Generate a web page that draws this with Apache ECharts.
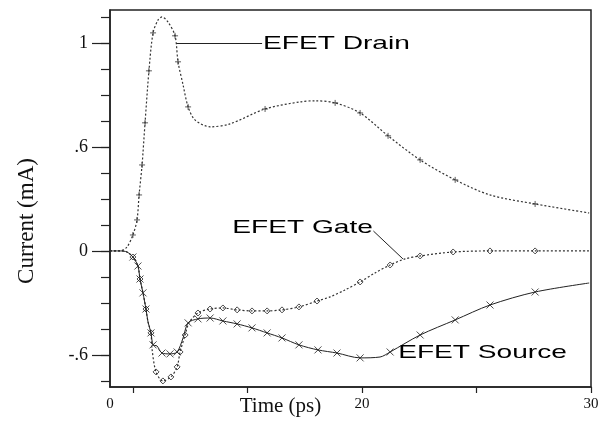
<!DOCTYPE html>
<html>
<head>
	<meta charset="UTF-8">
	<title>EFET currents</title>
	<script src="https://cdn.jsdelivr.net/npm/echarts@6.0.0/dist/echarts.min.js"></script>
	<style>
		html, body { margin: 0; padding: 0; background: #fff; }
		#main { width: 615px; height: 427px; }
	</style>
</head>
<body>
	<div id="main"></div>
	<script type="text/javascript">
		// time (ps) and current (mA)
		var drainT = [9.0, 9.44, 9.74, 10.0, 10.18, 10.27, 10.40, 10.53, 10.70, 10.88, 11.10, 11.27, 11.53, 11.84, 11.97, 12.19, 12.41, 12.71, 13.37, 14.24, 15.77, 17.30, 17.95, 18.83, 19.92, 21.14, 22.54, 24.07, 25.59, 27.56, 29.92];
		var drainI = [0, 0, 0.023, 0.092, 0.179, 0.323, 0.496, 0.739, 1.039, 1.258, 1.333, 1.350, 1.321, 1.241, 1.091, 0.958, 0.831, 0.756, 0.716, 0.733, 0.819, 0.860, 0.866, 0.854, 0.796, 0.664, 0.525, 0.410, 0.323, 0.271, 0.219];
		var drainMarks = [3, 4, 5, 6, 7, 8, 9, 13, 14, 16, 20, 23, 24, 25, 26, 27, 29];

		var gateT = [9.0, 9.44, 9.74, 10.0, 10.22, 10.31, 10.44, 10.57, 10.66, 10.79, 10.83, 11.01, 11.31, 11.66, 11.93, 12.06, 12.28, 12.45, 12.84, 13.37, 13.93, 14.55, 15.20, 15.86, 16.51, 17.25, 18.04, 18.61, 19.26, 19.92, 20.57, 21.23, 21.88, 22.54, 23.98, 25.59, 27.56, 29.92];
		var gateI = [0, 0, -0.006, -0.035, -0.087, -0.162, -0.242, -0.335, -0.410, -0.473, -0.560, -0.698, -0.750, -0.727, -0.669, -0.583, -0.485, -0.415, -0.358, -0.335, -0.329, -0.340, -0.346, -0.346, -0.340, -0.323, -0.289, -0.265, -0.225, -0.179, -0.127, -0.081, -0.046, -0.029, -0.006, 0, 0, 0];
		var gateMarks = [3, 5, 7, 9, 11, 12, 13, 14, 15, 16, 18, 19, 20, 21, 22, 23, 24, 25, 26, 29, 31, 33, 34, 35, 36];

		var sourceT = [9.0, 9.44, 9.74, 10.0, 10.22, 10.31, 10.44, 10.57, 10.66, 10.79, 10.88, 11.05, 11.27, 11.62, 11.93, 12.19, 12.41, 12.84, 13.37, 13.93, 14.55, 15.20, 15.86, 16.51, 17.25, 18.08, 18.91, 19.92, 20.79, 21.23, 22.54, 24.07, 25.59, 27.56, 29.92];
		var sourceI = [0, 0, -0.006, -0.035, -0.087, -0.162, -0.242, -0.335, -0.410, -0.473, -0.542, -0.548, -0.589, -0.594, -0.583, -0.502, -0.415, -0.392, -0.387, -0.404, -0.421, -0.444, -0.473, -0.502, -0.542, -0.571, -0.589, -0.617, -0.612, -0.583, -0.485, -0.398, -0.312, -0.237, -0.185];
		var sourceMarks = [3, 4, 5, 6, 7, 9, 10, 12, 13, 14, 16, 17, 18, 19, 20, 21, 22, 23, 24, 25, 26, 27, 29, 30, 31, 32, 33];

		// axis ticks and labels as printed
		var xTicks = [10, 15, 20, 25, 30];
		var xLabelVals = [9, 20, 30];
		var xLabels = ['0', '20', '30'];
		var yMinorTicks = [-0.75, -0.6, -0.45, -0.3, -0.15, 0, 0.15, 0.3, 0.45, 0.6, 0.75, 0.9, 1.05, 1.2, 1.35];
		var yLabelVals = [-0.6, 0, 0.6, 1.2];
		var yLabels = ['-.6', '0', '.6', '1'];

		// annotation texts, anchors and leader lines
		var noteTexts = ['EFET Drain', 'EFET Gate', 'EFET Source'];
		var noteAnchors = [[15.68, 1.197], [20.48, 0.133], [21.58, -0.589]];
		var noteAlign = ['left', 'right', 'left'];
		var leaders = [
			[[11.90, 1.197], [15.64, 1.197]],
			[[20.50, 0.115], [21.79, -0.046]]
		];

		function zip(a, b) {
			var out = [];
			for (var i = 0; i < a.length; i++) out.push([a[i], b[i]]);
			return out;
		}
		function pick(a, b, idx) {
			var out = [];
			for (var i = 0; i < idx.length; i++) out.push([a[idx[i]], b[idx[i]]]);
			return out;
		}

		var myChart = echarts.init(document.getElementById('main'));
		var ink = '#222';
		var serif = '"Liberation Serif", "Times New Roman", serif';

		var leaderData = [];
		for (var k = 0; k < leaders.length; k++) {
			leaderData.push([{ coord: leaders[k][0] }, { coord: leaders[k][1] }]);
		}

		var option = {
			animation: false,
			backgroundColor: '#fff',
			grid: {
				left: 110, right: 24, top: 10, bottom: 40,
				outerBoundsMode: 'none', containLabel: false,
				show: true, borderColor: ink, borderWidth: 1.5, backgroundColor: 'transparent'
			},
			xAxis: {
				type: 'value', min: 9, max: 30,
				name: 'Time (ps)', nameLocation: 'middle', nameGap: 9, nameMoveOverlap: false,
				nameTextStyle: { fontFamily: serif, fontSize: 21, color: '#111', padding: [0, 140, 0, 0] },
				axisLine: { show: true, onZero: false, lineStyle: { color: ink, width: 1.5 } },
				axisTick: { show: true, customValues: xTicks, length: 6, lineStyle: { color: ink, width: 1.2 } },
				axisLabel: {
					customValues: xLabelVals, margin: 10, fontFamily: serif, fontSize: 15, color: '#111',
					formatter: function (v) { var i = xLabelVals.indexOf(v); return i < 0 ? '' : xLabels[i]; }
				},
				splitLine: { show: false }
			},
			yAxis: [{
				type: 'value', min: -0.785, max: 1.39,
				name: 'Current (mA)', nameLocation: 'middle', nameGap: 72, nameMoveOverlap: false,
				nameTextStyle: { fontFamily: serif, fontSize: 23, color: '#111', padding: [0, 45, 0, 0] },
				axisLine: { show: true, onZero: false, lineStyle: { color: ink, width: 1.5 } },
				axisTick: { show: true, customValues: yMinorTicks, length: 9, lineStyle: { color: ink, width: 1.2 } },
				axisLabel: {
					customValues: yLabelVals, margin: 22, fontFamily: serif, fontSize: 18, color: '#111',
					formatter: function (v) { var i = yLabelVals.indexOf(v); return i < 0 ? '' : yLabels[i]; }
				},
				splitLine: { show: false }
			}, {
				type: 'value', min: -0.785, max: 1.39, position: 'left',
				axisLine: { show: false, onZero: false },
				axisTick: { show: true, customValues: yLabelVals, length: 18, lineStyle: { color: ink, width: 1.2 } },
				axisLabel: { show: false },
				splitLine: { show: false }
			}],
			series: [{
				name: 'EFET Drain', type: 'line', data: zip(drainT, drainI), smooth: 0.3,
				symbol: 'none', lineStyle: { color: '#333', width: 1.2, type: [2, 2] },
				markLine: {
					silent: true, symbol: 'none', label: { show: false },
					lineStyle: { color: ink, width: 1, type: 'solid' },
					data: leaderData
				}
			}, {
				name: 'EFET Gate', type: 'line', data: zip(gateT, gateI), smooth: 0.3,
				symbol: 'none', lineStyle: { color: '#333', width: 1.2, type: [2, 2] }
			}, {
				name: 'EFET Source', type: 'line', data: zip(sourceT, sourceI), smooth: 0.3,
				symbol: 'none', lineStyle: { color: ink, width: 1 }
			}, {
				type: 'scatter', data: pick(drainT, drainI, drainMarks),
				symbol: 'path://M0,5L10,5M5,0L5,10', symbolSize: 6,
				itemStyle: { color: 'transparent', borderColor: '#333', borderWidth: 1 }
			}, {
				type: 'scatter', data: pick(gateT, gateI, gateMarks),
				symbol: 'diamond', symbolSize: 6,
				itemStyle: { color: '#fff', borderColor: ink, borderWidth: 1 }
			}, {
				type: 'scatter', data: pick(sourceT, sourceI, sourceMarks),
				symbol: 'path://M0,0L10,10M10,0L0,10', symbolSize: 7,
				itemStyle: { color: 'transparent', borderColor: ink, borderWidth: 1 }
			}]
		};
		myChart.setOption(option);

		// 标注文字：按数据坐标换算位置
		var notes = [];
		for (var n = 0; n < noteTexts.length; n++) {
			var p = myChart.convertToPixel({ gridIndex: 0 }, noteAnchors[n]);
			notes.push({
				type: 'text', x: p[0], y: p[1], scaleX: 1.48, z: 10,
				style: {
					text: noteTexts[n], fill: '#000',
					font: '19px "Liberation Sans", Arial, sans-serif',
					align: noteAlign[n], verticalAlign: 'middle'
				}
			});
		}
		myChart.setOption({ graphic: notes });
	</script>
</body>
</html>
